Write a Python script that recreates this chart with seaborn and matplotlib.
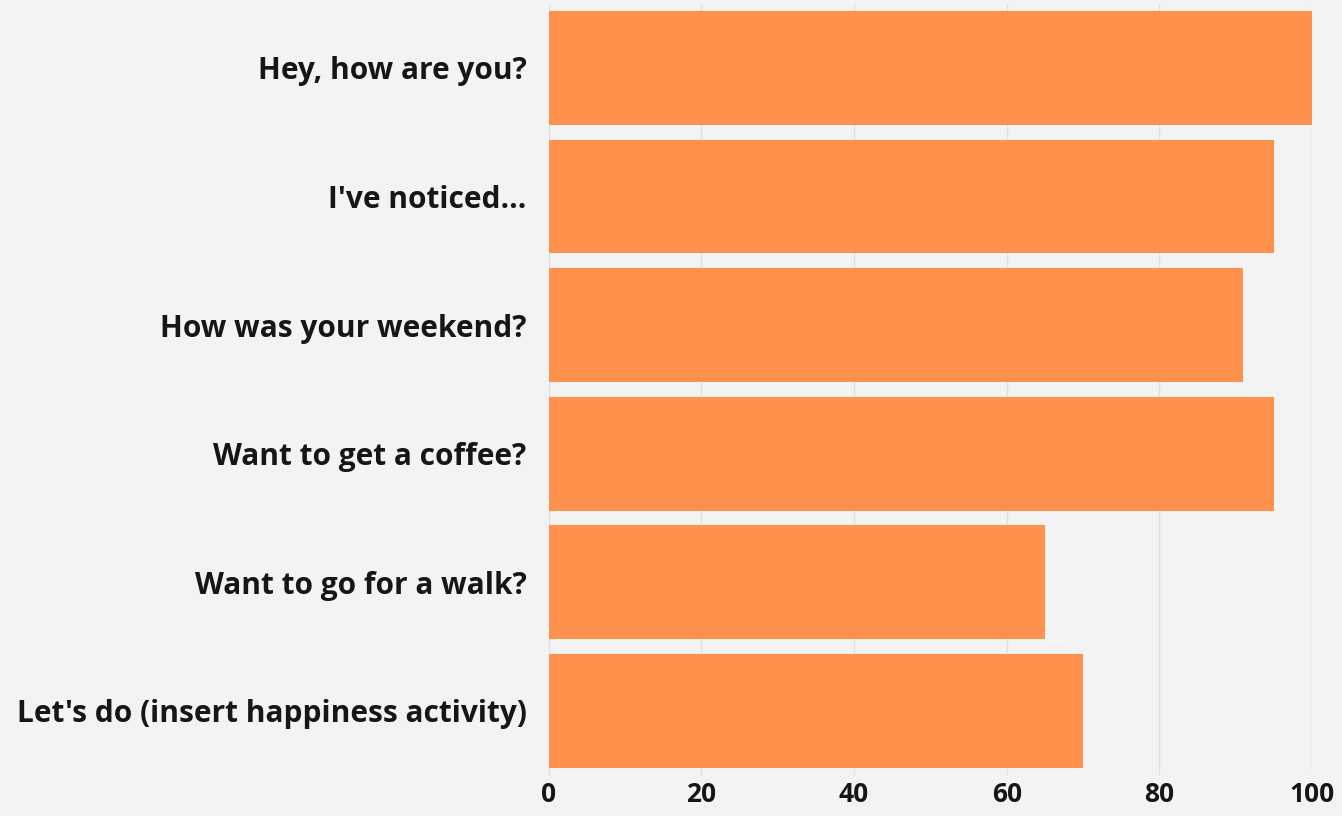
import matplotlib
matplotlib.use("Agg")
import matplotlib.pyplot as plt
import seaborn as sns
import pandas as pd

# Conversation openers and how often each one is used (share, 0-100)
openers = [
    "Hey, how are you?",
    "I've noticed...",
    "How was your weekend?",
    "Want to get a coffee?",
    "Want to go for a walk?",
    "Let's do (insert happiness activity)",
]
scores = [100, 95, 91, 95, 65, 70]
x_ticks = [0, 20, 40, 60, 80, 100]

df = pd.DataFrame({"opener": openers, "score": scores})

sns.set_theme(style="white")
plt.rcParams["font.family"] = ["Open Sans", "DejaVu Sans"]

bg = "#f3f3f3"
bar_color = "#ff914d"
text_color = "#161616"

fig = plt.figure(figsize=(13.42, 8.16), dpi=100, facecolor=bg)
ax = fig.add_axes([0.409, 0.050, 0.5686, 0.9456])
ax.set_facecolor(bg)

sns.barplot(data=df, x="score", y="opener", orient="h", color=bar_color,
            saturation=1, width=0.885, linewidth=0, ax=ax, zorder=2)

ax.set_xlim(0, 100)
ax.set_ylim(5.5, -0.5)
ax.set_xticks(x_ticks)
ax.set_xticklabels([str(t) for t in x_ticks])
ax.xaxis.grid(True, color="#e0e0e0", linewidth=1, zorder=0)
ax.yaxis.grid(False)
ax.set_axisbelow(True)

for s in ax.spines.values():
    s.set_visible(False)

ax.set_xlabel("")
ax.set_ylabel("")
ax.tick_params(axis="y", length=0, pad=16, labelsize=21.5, labelcolor=text_color)
ax.tick_params(axis="x", length=0, pad=4, labelsize=19, labelcolor=text_color)
for lab in ax.get_yticklabels() + ax.get_xticklabels():
    lab.set_fontweight("bold")

fig.savefig("out.png", dpi=100, facecolor=bg)
